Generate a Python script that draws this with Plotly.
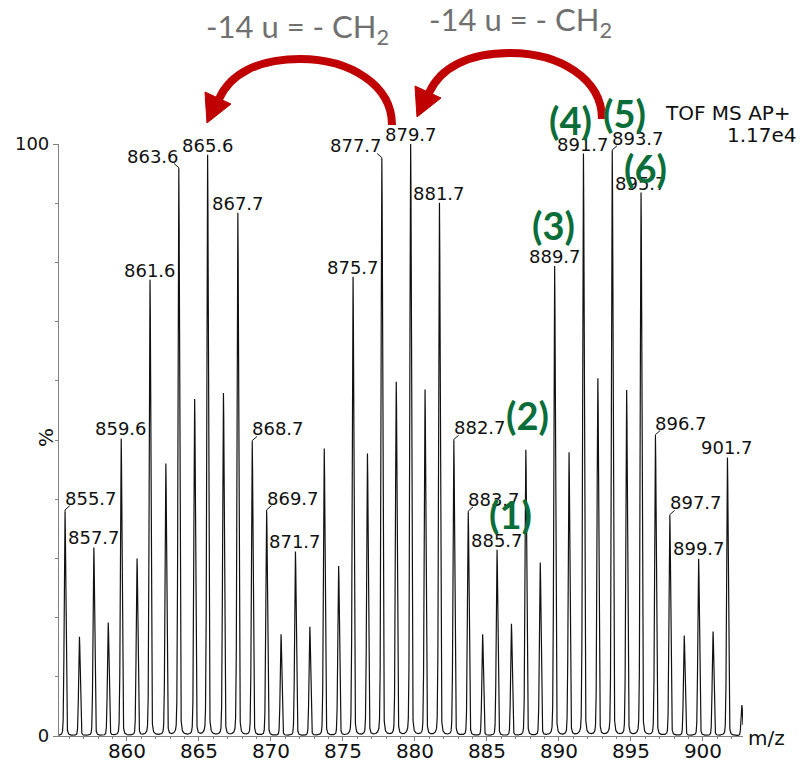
import numpy as np
import plotly.graph_objects as go

# ---------------- data ----------------
peak_mz = [855.7, 856.7, 857.7, 858.7, 859.6, 860.7, 861.6, 862.7, 863.6, 864.7,
           865.6, 866.7, 867.7, 868.7, 869.7, 870.7, 871.7, 872.7, 873.7, 874.7,
           875.7, 876.7, 877.7, 878.7, 879.7, 880.7, 881.7, 882.7, 883.7, 884.7,
           885.7, 886.7, 887.7, 888.7, 889.7, 890.7, 891.7, 892.7, 893.7, 894.7,
           895.7, 896.7, 897.7, 898.7, 899.7, 900.7, 901.7, 902.7]
peak_int = [37.8, 16.7, 31.8, 19.1, 50.2, 29.9, 77.0, 45.9, 95.6, 56.8,
            98.1, 57.8, 88.3, 49.5, 37.8, 17.1, 31.1, 18.4, 48.5, 28.6,
            77.5, 47.6, 97.3, 59.7, 100.0, 58.4, 90.0, 49.7, 37.6, 17.1,
            31.4, 18.9, 48.3, 29.2, 79.3, 47.8, 98.3, 60.3, 98.6, 58.3,
            91.7, 50.5, 37.0, 16.9, 29.9, 17.6, 47.0, 5.2]

label_mz = [855.7, 857.7, 859.6, 861.6, 863.6, 865.6, 867.7, 868.7, 869.7, 871.7,
            875.7, 877.7, 879.7, 881.7, 882.7, 883.7, 885.7, 889.7, 891.7, 893.7,
            895.7, 896.7, 897.7, 899.7, 901.7]
label_side = ["l", "c", "c", "c", "r", "c", "c", "l", "l", "c",
              "c", "r", "c", "c", "l", "l", "c", "c", "c", "l",
              "c", "l", "l", "c", "c"]

series_tags = ["(1)", "(2)", "(3)", "(4)", "(5)", "(6)"]
x_ticks = [860, 865, 870, 875, 880, 885, 890, 895, 900]
y_ticks = [0, 100]
x_range = [855.28, 902.78]

# ---------------- geometry helpers ----------------
L, T, W, H = 59, 144, 684, 592          # plot area in pixels


def P(px, py):
    return f"{(px - L) / W:.5f},{(T + H - py) / H:.5f}"


# ---------------- spectrum profile from the peak list ----------------
xs = np.arange(x_range[0], x_range[1] + 0.0001, 0.005)
ys = np.zeros_like(xs)
for c, h in zip(peak_mz, peak_int):
    d = xs - c
    ys += h * (0.85 * np.exp(-0.5 * (d / 0.055) ** 2) + 0.15 * (0.06 ** 2) / (d ** 2 + 0.06 ** 2))

fig = go.Figure()
fig.add_trace(go.Scatter(x=xs, y=ys, mode="lines",
                         line=dict(color="#111111", width=1.2),
                         hoverinfo="skip", showlegend=False))

# leaders for offset labels
lx, ly = [], []
lookup = dict(zip(peak_mz, peak_int))
for m, s in zip(label_mz, label_side):
    h = lookup[m]
    if s == "l":
        lx += [m, m, m + 0.33, None]
        ly += [h, h + 0.4, h + 1.1, None]
    elif s == "r":
        lx += [m, m, m - 0.33, None]
        ly += [h, h + 0.4, h + 1.1, None]
fig.add_trace(go.Scatter(x=lx, y=ly, mode="lines", line=dict(color="#111111", width=1),
                         hoverinfo="skip", showlegend=False, cliponaxis=False))

annotations = []
lab_font = dict(family="DejaVu Sans", size=18, color="#111111")
for m, s in zip(label_mz, label_side):
    h = lookup[m]
    txt = f"{m:.1f}"
    if s == "c":
        annotations.append(dict(x=m, y=h, text=txt, showarrow=False, xanchor="center",
                                yanchor="middle", yshift=10, font=lab_font))
    elif s == "l":
        annotations.append(dict(x=m, y=h, text=txt, showarrow=False, xanchor="left",
                                yanchor="middle", yshift=14, xshift=-2, font=lab_font))
    else:
        annotations.append(dict(x=m, y=h, text=txt, showarrow=False, xanchor="right",
                                yanchor="middle", yshift=14, xshift=2, font=lab_font))

# instrument text
annotations.append(dict(xref="paper", yref="paper", x=(793 - L) / W, y=(T + H - 113) / H,
                        text="TOF MS AP+", showarrow=False, xanchor="right", yanchor="middle",
                        font=dict(family="DejaVu Sans", size=20, color="#111111")))
annotations.append(dict(xref="paper", yref="paper", x=(799 - L) / W, y=(T + H - 135) / H,
                        text="1.17e4", showarrow=False, xanchor="right", yanchor="middle",
                        font=dict(family="DejaVu Sans", size=20, color="#111111")))

# axis extra labels
annotations.append(dict(xref="paper", yref="paper", x=(746 - L) / W, y=(T + H - 738) / H,
                        text="m/z", showarrow=False, xanchor="left", yanchor="middle",
                        font=dict(family="DejaVu Sans", size=20, color="#111111")))
annotations.append(dict(xref="paper", yref="paper", x=(46 - L) / W, y=(T + H - 438) / H,
                        text="%", showarrow=False, xanchor="center", yanchor="middle",
                        textangle=-90,
                        font=dict(family="DejaVu Sans", size=20, color="#111111")))

# series tags (green)
tag_pos = [(510, 514), (527, 415), (553, 225), (570, 120), (624, 113), (645, 168)]
for t, (px, py) in zip(series_tags, tag_pos):
    annotations.append(dict(xref="paper", yref="paper", x=(px - L) / W, y=(T + H - py) / H,
                            text=f"<b>{t}</b>", showarrow=False, xanchor="center",
                            yanchor="middle",
                            font=dict(family="Lato", size=38, color="#0b6e3a")))

# -14 u texts
for px, py in [(297, 29), (520, 22)]:
    annotations.append(dict(xref="paper", yref="paper", x=(px - L) / W, y=(T + H - py) / H,
                            text="-14 u = - CH<sub>2</sub>", showarrow=False,
                            xanchor="center", yanchor="middle",
                            font=dict(family="Lato", size=31, color="#707070")))

# curved red arrows
shapes = []
for dx, dy in [(0, 0), (210, -6)]:
    arc = (f"M {P(392 + dx, 125 + dy)} C {P(392 + dx, 85 + dy)} {P(350 + dx, 59 + dy)} {P(300 + dx, 59 + dy)} "
           f"C {P(258 + dx, 59 + dy)} {P(230 + dx, 74 + dy)} {P(219 + dx, 99 + dy)}")
    shapes.append(dict(type="path", xref="paper", yref="paper", path=arc,
                       line=dict(color="#c00000", width=8), layer="above"))
    head = f"M {P(207 + dx, 123 + dy)} L {P(205 + dx, 92 + dy)} L {P(231 + dx, 104 + dy)} Z"
    shapes.append(dict(type="path", xref="paper", yref="paper", path=head,
                       line=dict(color="#c00000", width=1), fillcolor="#c00000", layer="above"))

fig.update_layout(
    width=809, height=760, autosize=False,
    margin=dict(l=L, r=809 - L - W, t=T, b=760 - T - H),
    paper_bgcolor="white", plot_bgcolor="white",
    showlegend=False,
    annotations=annotations, shapes=shapes,
    xaxis=dict(range=x_range, tickvals=x_ticks, ticks="outside", ticklen=4,
               tickcolor="#808080", showline=True, linecolor="#808080", linewidth=1.2,
               showgrid=False, zeroline=False, automargin=False, ticklabelstandoff=-7,
               minor=dict(dtick=1, ticks="outside", ticklen=2, tickcolor="#808080"),
               tickfont=dict(family="DejaVu Sans", size=20, color="#111111")),
    yaxis=dict(range=[0, 100], tickvals=y_ticks, ticks="outside", ticklen=5,
               tickcolor="#808080", showline=True, linecolor="#808080", linewidth=1.2,
               showgrid=False, zeroline=False, automargin=False,
               minor=dict(dtick=10, ticks="outside", ticklen=3, tickcolor="#808080"),
               tickfont=dict(family="DejaVu Sans", size=18, color="#111111")),
)

fig.write_html("out.html", config={"displayModeBar": False},
               post_script="document.body.style.margin='0';document.body.style.overflow='hidden';")
